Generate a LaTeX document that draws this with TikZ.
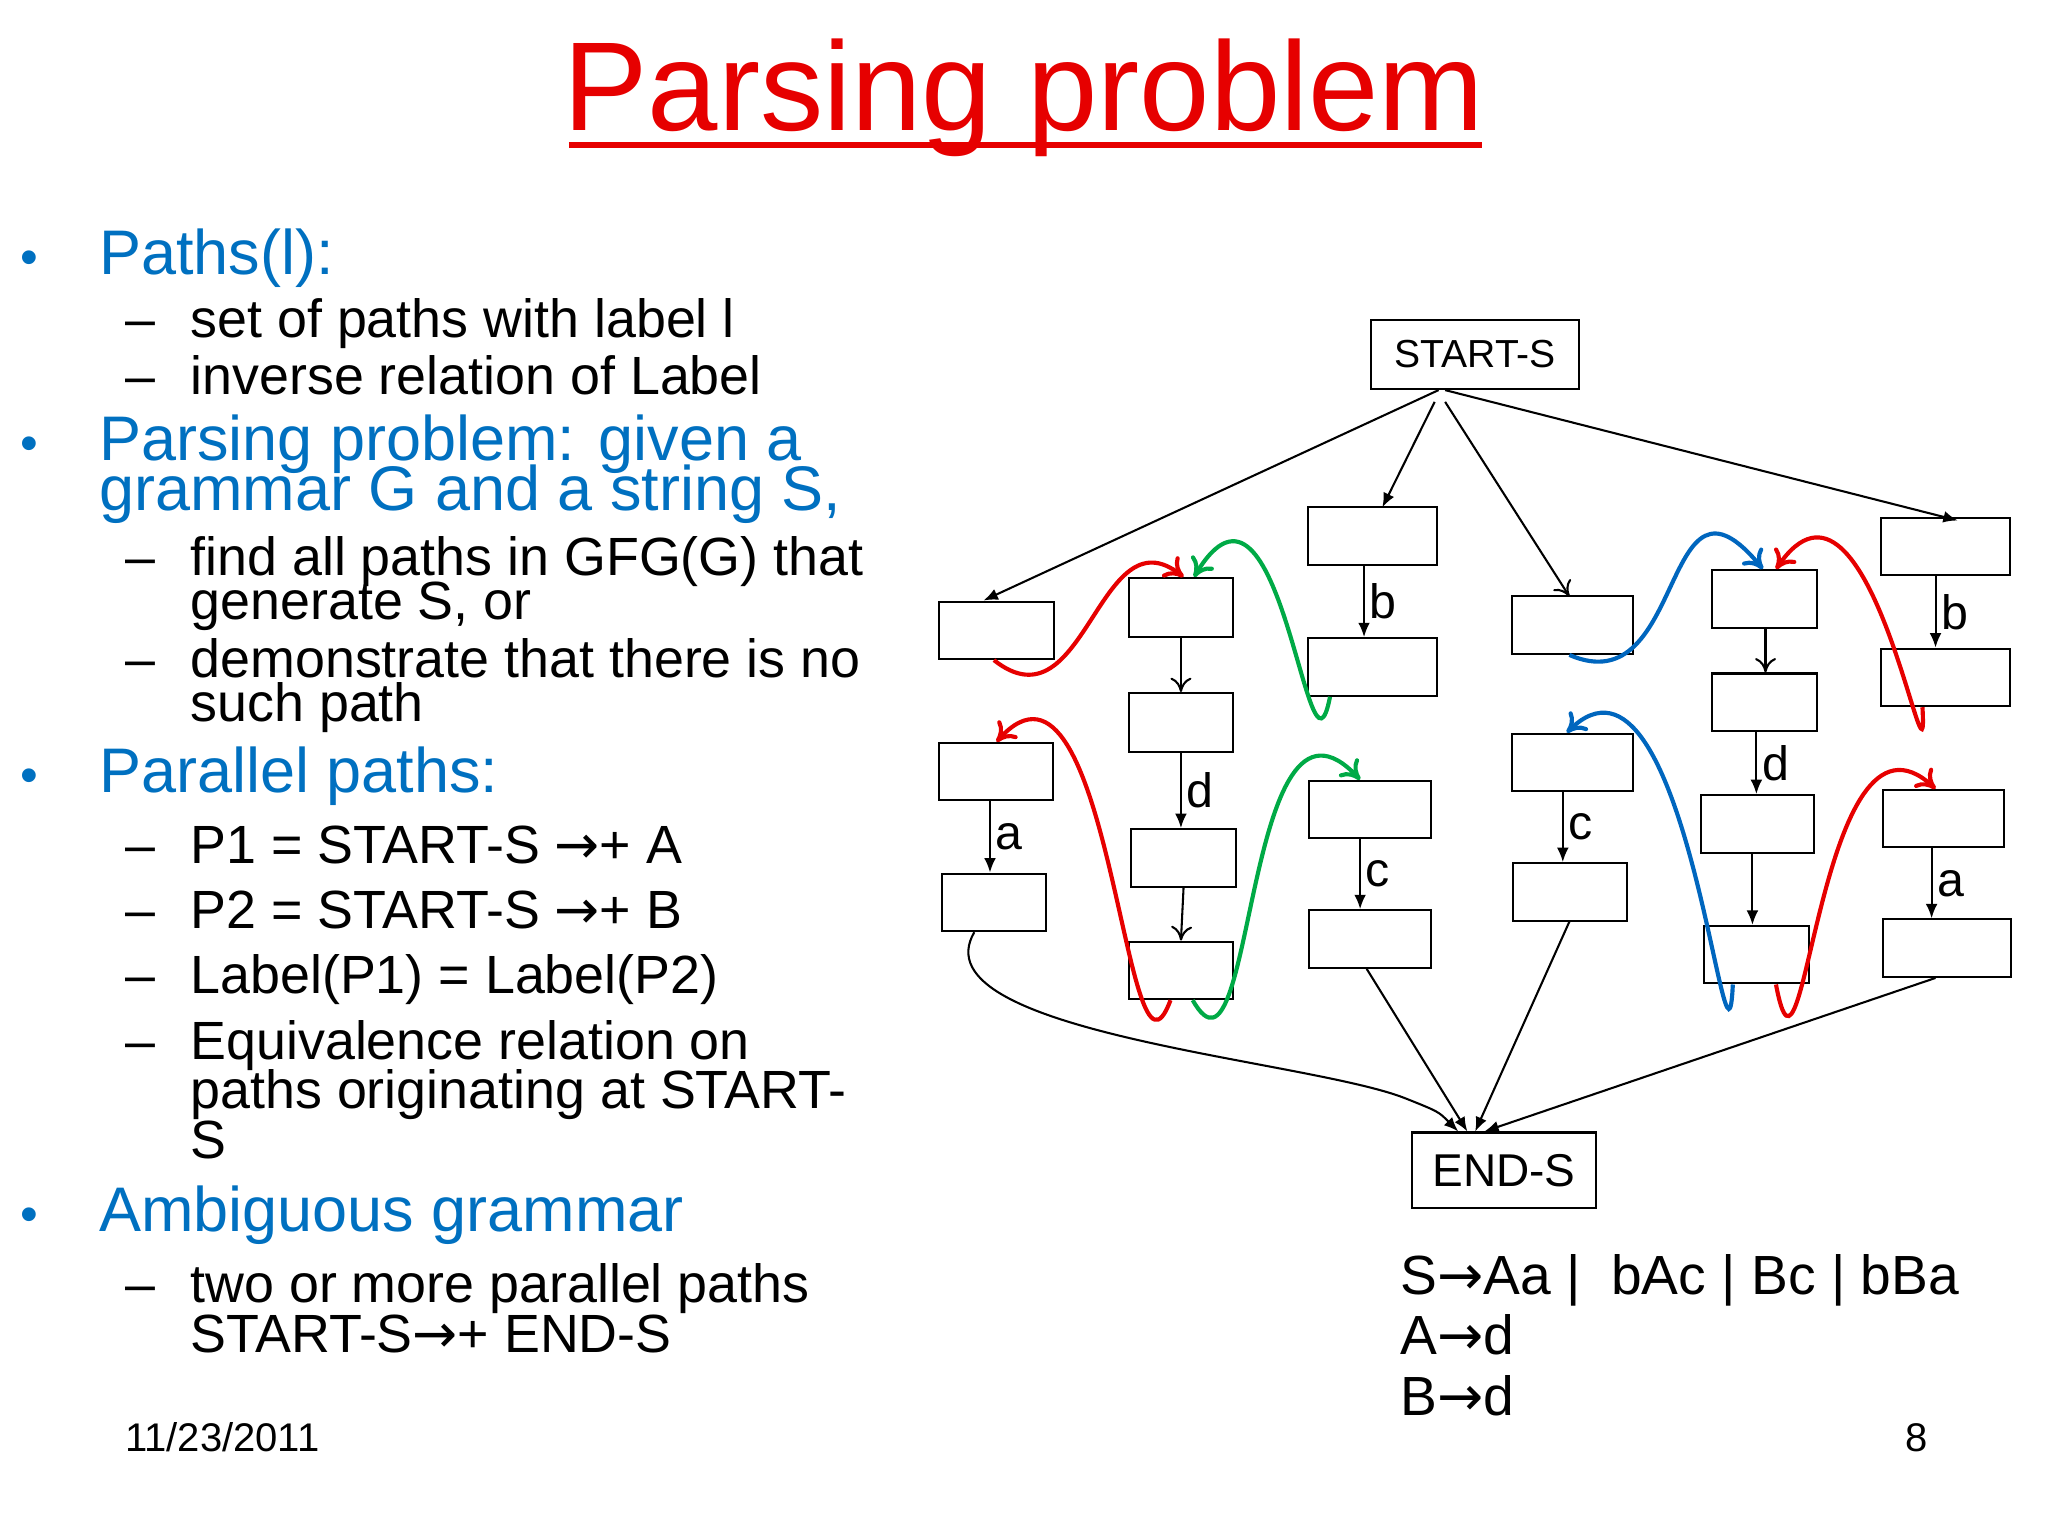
\documentclass[tikz,border=0pt]{standalone}
\usepackage{fontspec}
\setmainfont{Liberation Sans}
\newfontfamily\arrfont{DejaVu Sans}
\newcommand{\arr}{{\arrfont →}}
\usetikzlibrary{arrows.meta}
\definecolor{tblue}{RGB}{0,112,192}
\definecolor{tred}{RGB}{230,0,0}
\definecolor{tgreen}{RGB}{0,170,70}
\definecolor{cblue}{RGB}{0,102,190}
\newcommand{\bxat}[5]{\node[bx,minimum width={(#4-#2)*0.01cm},minimum height={(#5-#3)*0.01cm}] (#1) at ({(#2+#4)/2},{(#3+#5)/2}) {};}
\begin{document}
\begin{tikzpicture}[x=0.01cm,y=-0.01cm,
  bx/.style={draw,line width=0.45pt,inner sep=0pt},
  fa/.style={-{Latex[length=1.1mm,width=0.9mm]},line width=0.45pt},
  oa/.style={-{To[length=1.1mm,width=1.6mm]},line width=0.45pt},
  cv/.style={line width=0.9pt,-{To[length=1.4mm,width=2mm]}},
  lb/.style={font=\fontsize{10.5pt}{12pt}\selectfont,anchor=west,inner sep=1pt},
  bl/.style={anchor=base west,text=tblue,font=\fontsize{13.7pt}{15pt}\selectfont,inner sep=0pt},
  bk/.style={anchor=base west,font=\fontsize{11.7pt}{13pt}\selectfont,inner sep=0pt},
  dot/.style={anchor=base west,text=tblue,font=\fontsize{11pt}{13pt}\selectfont,inner sep=0pt},
  ds/.style={anchor=base west,font=\fontsize{11.7pt}{13pt}\selectfont,inner sep=0pt},
  gr/.style={anchor=base west,font=\fontsize{12pt}{14pt}\selectfont,inner sep=0pt}]
\useasboundingbox (0,0) rectangle (1566,1174);
% title
\node[anchor=base,text=tred,font=\fontsize{27.5pt}{30pt}\selectfont,inner sep=0pt] (title) at (783,100) {Parsing problem};
\draw[tred,line width=1.2pt] (435,111) -- (1133,111);
% left text
\foreach \y in {210,352,606,942} \node[dot] at (15,\y) {•};
\foreach \y in {258,302,440,518,660,710,760,810,996} \node[ds] at (95,\y) {–};
\node[bl] at (75,210) {Paths(l):};
\node[bk] at (145,258) {set of paths with label l};
\node[bk] at (145,302) {inverse relation of Label};
\node[bl] at (75,352) {Parsing problem: given a};
\node[bl] at (75,390) {grammar G and a string S,};
\node[bk] at (145,440) {find all paths in GFG(G) that};
\node[bk] at (145,474) {generate S, or};
\node[bk] at (145,518) {demonstrate that there is no};
\node[bk] at (145,552) {such path};
\node[bl] at (75,606) {Parallel paths:};
\node[bk] at (145,660) {P1 = START-S \arr+ A};
\node[bk] at (145,710) {P2 = START-S \arr+ B};
\node[bk] at (145,760) {Label(P1) = Label(P2)};
\node[bk] at (145,810) {Equivalence relation on};
\node[bk] at (145,848) {paths originating at START-};
\node[bk] at (145,886) {S};
\node[bl] at (75,942) {Ambiguous grammar};
\node[bk] at (145,996) {two or more parallel paths};
\node[bk] at (145,1034) {START-S\arr+ END-S};
\node[anchor=base west,font=\fontsize{8.7pt}{10pt}\selectfont,inner sep=0pt] at (95,1110) {11/23/2011};
\node[anchor=base west,font=\fontsize{8.7pt}{10pt}\selectfont,inner sep=0pt] at (1456,1110) {8};
\node[gr] at (1070,990) {S\arr Aa |~ bAc | Bc | bBa};
\node[gr] at (1070,1036) {A\arr d};
\node[gr] at (1070,1082) {B\arr d};
% boxes
\node[bx,minimum width=1.59cm,minimum height=0.53cm,font=\fontsize{8.5pt}{10pt}\selectfont] (S) at (1128,271) {START-S};
\node[bx,minimum width=1.41cm,minimum height=0.58cm,font=\fontsize{10pt}{12pt}\selectfont] (E) at (1150,895) {END-S};
\bxat{a1}{718}{460}{806}{504}
\bxat{a2}{718}{568}{805}{612}
\bxat{a3}{720}{668}{800}{712}
\bxat{b1}{863}{442}{943}{487}
\bxat{b2}{863}{530}{943}{575}
\bxat{b3}{865}{634}{945}{678}
\bxat{b4}{863}{720}{943}{764}
\bxat{c1}{1000}{388}{1099}{432}
\bxat{c2}{1000}{488}{1099}{532}
\bxat{c3}{1001}{597}{1094}{641}
\bxat{c4}{1001}{696}{1094}{740}
\bxat{d1}{1156}{456}{1249}{500}
\bxat{d2}{1156}{561}{1249}{605}
\bxat{d3}{1157}{660}{1244}{704}
\bxat{e1}{1309}{436}{1389}{480}
\bxat{e2}{1309}{515}{1389}{559}
\bxat{e3}{1301}{608}{1387}{652}
\bxat{e4}{1303}{708}{1383}{752}
\bxat{f1}{1438}{396}{1537}{440}
\bxat{f2}{1438}{496}{1537}{540}
\bxat{f3}{1440}{604}{1532}{648}
\bxat{f4}{1440}{703}{1538}{747}
% start arrows
\draw[fa] (S.south -| 1100,0) -- (a1.north -| 752,0);
\draw[fa] (S.south -| 1097,0) ++(0,9) -- (1057,388);
\draw[oa] (S.south -| 1105,0) ++(0,9) -- (1200,456);
\draw[fa] (S.south -| 1105,0) -- (1497,398);
% internal
\draw[fa] (a2.south -| 757,0) -- (a3.north -| 757,0) node[lb,midway] {a};
\draw[oa] (b1.south -| 903,0) -- (b2.north -| 903,0);
\draw[fa] (b2.south -| 903,0) -- (b3.north -| 903,0) node[lb,midway] {d};
\draw[oa] (b3.south -| 905,0) -- (b4.north -| 903,0);
\draw[fa] (c1.south -| 1043,0) -- (c2.north -| 1043,0) node[lb,midway] {b};
\draw[fa] (c3.south -| 1040,0) -- (c4.north -| 1040,0) node[lb,midway] {c};
\draw[fa] (d2.south -| 1195,0) -- (d3.north -| 1195,0) node[lb,midway] {c};
\draw[oa] (e1.south -| 1350,0) -- (e2.north -| 1350,0);
\draw[fa] (e2.south -| 1343,0) -- (e3.north -| 1343,0) node[lb,midway] {d};
\draw[fa] (e3.south -| 1340,0) -- (e4.north -| 1340,0);
\draw[fa] (f1.south -| 1480,0) -- (f2.north -| 1480,0) node[lb,midway] {b};
\draw[fa] (f3.south -| 1477,0) -- (f4.north -| 1477,0) node[lb,midway] {a};
% to END
\draw[fa] (a3.south -| 745,0) .. controls (700,790) and (1000,810) .. (1075,840) .. controls (1100,850) .. (E.north -| 1115,0);
\draw[fa] (c4.south -| 1045,0) -- (E.north -| 1122,0);
\draw[fa] (d3.south -| 1200,0) -- (E.north -| 1128,0);
\draw[fa] (f4.south -| 1480,0) -- (E.north -| 1135,0);
% curves
\draw[cv,tred] (a1.south -| 760,0) .. controls (830,560) and (840,390) .. (b1.north -| 905,0);
\draw[cv,tgreen] (c2.south -| 1017,0) .. controls (1000,620) and (980,330) .. (b1.north -| 913,0);
\draw[cv,tred] (b4.south -| 895,0) .. controls (860,860) and (850,470) .. (a2.north -| 762,0);
\draw[cv,tgreen] (b4.south -| 912,0) .. controls (960,850) and (950,500) .. (c3.north -| 1040,0);
\draw[cv,cblue] (d1.south -| 1200,0) .. controls (1290,540) and (1270,340) .. (e1.north -| 1348,0);
\draw[cv,tred] (f2.south -| 1470,0) .. controls (1475,630) and (1430,330) .. (e1.north -| 1358,0);
\draw[cv,cblue] (e4.south -| 1325,0) .. controls (1320,860) and (1290,470) .. (d2.north -| 1198,0);
\draw[cv,tred] (e4.south -| 1358,0) .. controls (1380,870) and (1390,520) .. (f3.north -| 1480,0);
\end{tikzpicture}
\end{document}
